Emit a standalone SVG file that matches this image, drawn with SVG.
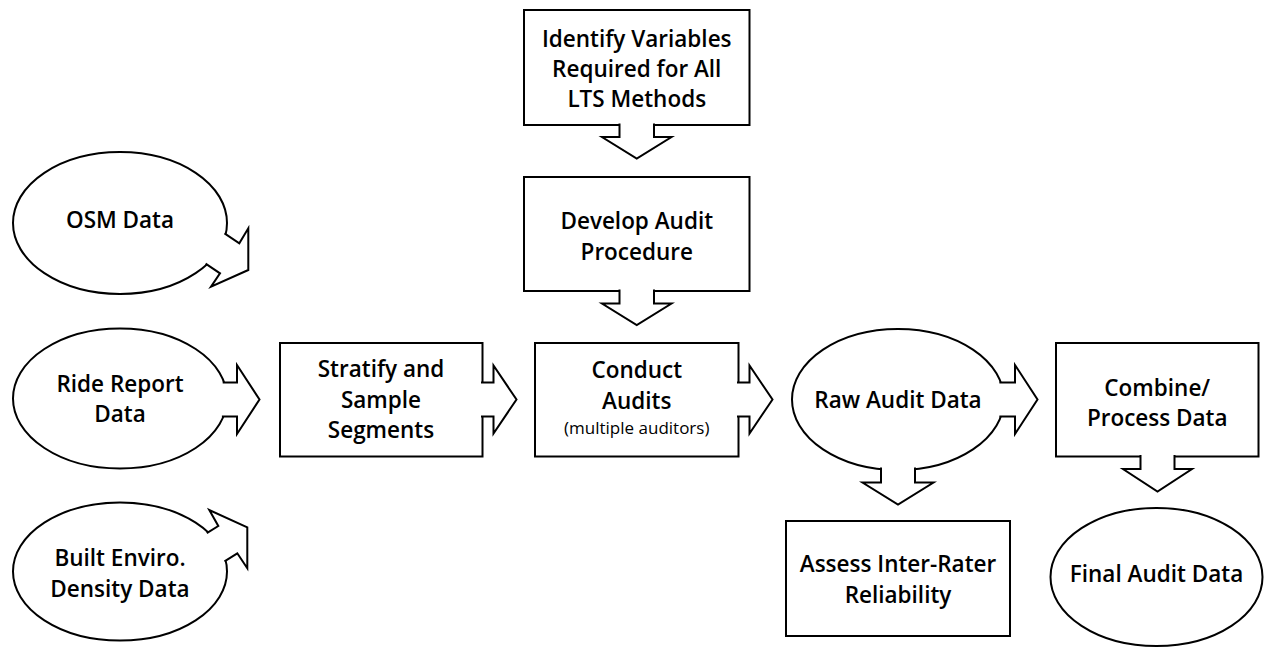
<svg xmlns="http://www.w3.org/2000/svg" width="1264" height="648" viewBox="0 0 1264 648">
  <style>
    .shape { fill: #ffffff; stroke: #000000; stroke-width: 2; }
    .arrow { fill: #ffffff; stroke: #000000; stroke-width: 2; stroke-linejoin: miter; }
    .label { font-family: "Open Sans", "Liberation Sans", sans-serif; font-weight: 600; font-size: 22.5px; fill: #000000; text-anchor: middle; }
    .note { font-family: "Open Sans", "Liberation Sans", sans-serif; font-weight: 400; font-size: 17px; fill: #000000; text-anchor: middle; }
  </style>
  <rect width="1264" height="648" fill="#ffffff"/>

  <!-- data sources -->
  <g id="osm-data">
    <ellipse class="shape" cx="120" cy="223" rx="107" ry="71"/>
    <text class="label" x="120" y="227.5">OSM Data</text>
  </g>
  <g id="ride-report-data">
    <ellipse class="shape" cx="120" cy="398.5" rx="107" ry="70"/>
    <text class="label" x="120" y="392">Ride Report</text>
    <text class="label" x="120" y="422">Data</text>
  </g>
  <g id="built-enviro-data">
    <ellipse class="shape" cx="120" cy="571.5" rx="107" ry="69"/>
    <text class="label" x="120" y="565.5">Built Enviro.</text>
    <text class="label" x="120" y="597">Density Data</text>
  </g>

  <!-- process steps -->
  <g id="identify-variables">
    <rect class="shape" x="524" y="10" width="225.5" height="115"/>
    <text class="label" x="636.75" y="47">Identify Variables</text>
    <text class="label" x="636.75" y="76.5">Required for All</text>
    <text class="label" x="636.75" y="106.5">LTS Methods</text>
  </g>
  <g id="develop-procedure">
    <rect class="shape" x="524" y="177" width="225.5" height="114"/>
    <text class="label" x="636.75" y="229">Develop Audit</text>
    <text class="label" x="636.75" y="260">Procedure</text>
  </g>
  <g id="stratify-sample">
    <rect class="shape" x="280" y="343" width="202.5" height="113.5"/>
    <text class="label" x="381" y="376.5">Stratify and</text>
    <text class="label" x="381" y="407.5">Sample</text>
    <text class="label" x="381" y="438">Segments</text>
  </g>
  <g id="conduct-audits">
    <rect class="shape" x="535" y="343" width="203.5" height="113.5"/>
    <text class="label" x="636.75" y="377.5">Conduct</text>
    <text class="label" x="636.75" y="408.5">Audits</text>
    <text class="note" x="636.75" y="434">(multiple auditors)</text>
  </g>
  <g id="raw-audit-data">
    <ellipse class="shape" cx="898" cy="399.5" rx="106" ry="70.5"/>
    <text class="label" x="898" y="408">Raw Audit Data</text>
  </g>
  <g id="assess-reliability">
    <rect class="shape" x="786" y="521" width="224" height="115"/>
    <text class="label" x="898" y="572">Assess Inter-Rater</text>
    <text class="label" x="898" y="602.5">Reliability</text>
  </g>
  <g id="combine-process">
    <rect class="shape" x="1056" y="343" width="202.5" height="113.5"/>
    <text class="label" x="1157.25" y="395.5">Combine/</text>
    <text class="label" x="1157.25" y="425.5">Process Data</text>
  </g>
  <g id="final-audit-data">
    <ellipse class="shape" cx="1156.5" cy="577" rx="106" ry="69"/>
    <text class="label" x="1156.5" y="582">Final Audit Data</text>
  </g>

  <!-- block arrows: open outlines whose white fill hides the border under the shaft -->
  <g id="connectors">
    <path class="arrow" d="M224.5,233.4 L239.3,243.3 L248.3,228.3 L248.3,270 L211,286.7 L220,273.3 L205.6,263.7"/>
    <path class="arrow" d="M222.7,382.5 H237 V365 L259.5,399.5 L237,434 V416.5 H221.9"/>
    <path class="arrow" d="M206.8,533.2 L218.3,526 L209.3,510 L247.3,527.3 L247.3,568.3 L237.3,553.3 L224.5,561.4"/>
    <path class="arrow" d="M619.5,123.5 V137 H602 L636.75,158.5 L671.5,137 H654 V123.5"/>
    <path class="arrow" d="M619.5,289.5 V303.5 H602 L636.75,325 L671.5,303.5 H654 V289.5"/>
    <path class="arrow" d="M481,382.5 H493.5 V365.5 L516.5,399.5 L493.5,433.5 V416.5 H481"/>
    <path class="arrow" d="M737,382.5 H749.5 V365.5 L772.5,399.5 L749.5,433.5 V416.5 H737"/>
    <path class="arrow" d="M999.4,382.5 H1015 V365 L1037.5,399.5 L1015,434 V416.5 H999.4"/>
    <path class="arrow" d="M881,467.6 V482.5 H862.5 L898,504.5 L933.5,482.5 H915 V467.6"/>
    <path class="arrow" d="M1140.5,455 V469 H1123 L1157.5,491.5 L1192,469 H1174.5 V455"/>
  </g>
</svg>
